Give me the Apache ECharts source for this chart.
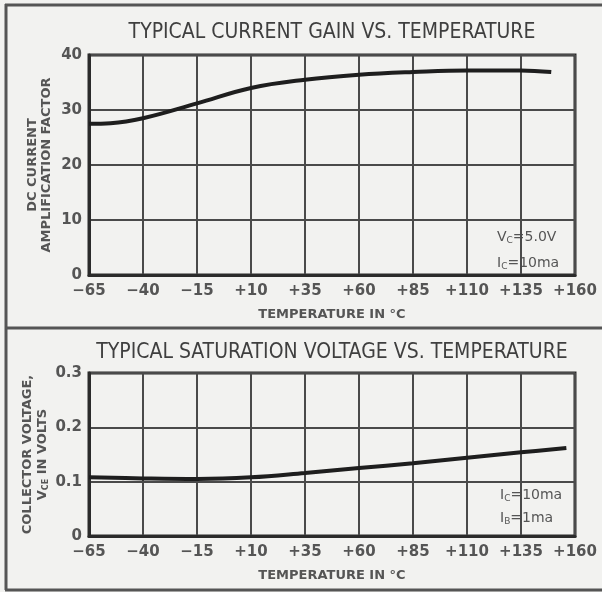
<!DOCTYPE html>
<html>
<head>
<meta charset="utf-8">
<script src="https://cdn.jsdelivr.net/npm/echarts@6/dist/echarts.min.js"></script>
<style>
  html, body { margin: 0; padding: 0; background: #f2f2f0; }
  #main { width: 602px; height: 592px; }
</style>
</head>
<body>
<div id="main"></div>
<script>
// temperature axis, °C
const tempTicks = [-65, -40, -15, 10, 35, 60, 85, 110, 135, 160];
const TEMP_MIN = -65;

// DC current gain vs temperature (Vc = 5.0V, Ic = 10ma)
const gainTemp = [-65, -55, -40, -15, 10, 35, 60, 85, 110, 135, 149];
const gainValue = [27.5, 27.6, 28.5, 31.2, 34.0, 35.5, 36.4, 36.9, 37.2, 37.2, 36.9];
const gainTicks = [0, 10, 20, 30, 40];

// saturation voltage vs temperature (Ic = 10ma, Ib = 1ma)
const satTemp = [-65, -40, -15, 10, 35, 60, 85, 110, 135, 156];
const satValue = [0.108, 0.106, 0.105, 0.108, 0.116, 0.125, 0.134, 0.144, 0.154, 0.162];
const satTicks = [0, 0.1, 0.2, 0.3];

const ink = '#2b2b2b';
const grey = '#555';
const labelFont = 'DejaVu Sans';
const titleFont = '"DejaVu Sans Condensed", sans-serif';

// axis runs from 0 so ticks line up with -65, -40, ...
const shift = (t) => t - TEMP_MIN;
const tempLabel = (v) => {
  const t = Math.round(v + TEMP_MIN);
  if (t > 0) return '+' + t;
  if (t < 0) return '\u2212' + Math.abs(t);
  return '0';
};

function xAxisFor(gridIndex) {
  return {
    type: 'value',
    gridIndex,
    min: 0,
    max: shift(tempTicks[tempTicks.length - 1]),
    interval: tempTicks[1] - tempTicks[0],
    name: 'TEMPERATURE IN \u00B0C',
    nameLocation: 'middle',
    nameGap: 33,
    nameMoveOverlap: false,
    nameTextStyle: { color: grey, fontFamily: labelFont, fontWeight: 'bold', fontSize: 13 },
    axisLine: { show: true, lineStyle: { color: ink, width: 3 } },
    axisTick: { show: false },
    axisLabel: { color: grey, fontFamily: labelFont, fontWeight: 'bold', fontSize: 15, margin: 9, formatter: tempLabel },
    splitLine: { show: true, lineStyle: { color: '#4a4a4a', width: 2 } }
  };
}

const chart = echarts.init(document.getElementById('main'));

chart.setOption({
  backgroundColor: '#f2f2f0',
  animation: false,
  grid: [
    { left: 89, right: 27, top: 55, height: 220, show: true, borderColor: ink, borderWidth: 3, backgroundColor: 'transparent' },
    { left: 89, right: 27, top: 373, height: 163, show: true, borderColor: ink, borderWidth: 3, backgroundColor: 'transparent' }
  ],
  xAxis: [xAxisFor(0), xAxisFor(1)],
  yAxis: [
    {
      type: 'value',
      gridIndex: 0,
      min: gainTicks[0],
      max: gainTicks[gainTicks.length - 1],
      interval: gainTicks[1] - gainTicks[0],
      name: 'DC CURRENT\nAMPLIFICATION FACTOR',
      nameLocation: 'middle',
      nameGap: 35,
      nameMoveOverlap: false,
      nameTextStyle: { color: grey, fontFamily: labelFont, fontWeight: 'bold', fontSize: 13, lineHeight: 14 },
      axisLine: { show: true, lineStyle: { color: ink, width: 3 } },
      axisTick: { show: false },
      axisLabel: { color: grey, fontFamily: labelFont, fontWeight: 'bold', fontSize: 15, margin: 7 },
      splitLine: { show: true, lineStyle: { color: '#4a4a4a', width: 2 } }
    },
    {
      type: 'value',
      gridIndex: 1,
      min: satTicks[0],
      max: satTicks[satTicks.length - 1],
      interval: satTicks[1] - satTicks[0],
      name: 'COLLECTOR VOLTAGE,\nV{sub|CE} IN VOLTS',
      nameLocation: 'middle',
      nameGap: 39,
      nameMoveOverlap: false,
      nameTextStyle: {
        color: grey, fontFamily: labelFont, fontWeight: 'bold', fontSize: 13, lineHeight: 15,
        rich: { sub: { fontSize: 8, fontWeight: 'bold', fontFamily: labelFont, color: grey, verticalAlign: 'bottom', padding: [6, 0, 0, 0] } }
      },
      axisLine: { show: true, lineStyle: { color: ink, width: 3 } },
      axisTick: { show: false },
      axisLabel: {
        color: grey, fontFamily: labelFont, fontWeight: 'bold', fontSize: 15, margin: 7,
        formatter: (v) => (v === 0 ? '0' : v.toFixed(1))
      },
      splitLine: { show: true, lineStyle: { color: '#4a4a4a', width: 2 } }
    }
  ],
  series: [
    {
      type: 'line',
      xAxisIndex: 0,
      yAxisIndex: 0,
      smooth: 0.4,
      symbol: 'none',
      lineStyle: { color: '#1e1e1e', width: 4 },
      data: gainTemp.map((t, i) => [shift(t), gainValue[i]])
    },
    {
      type: 'line',
      xAxisIndex: 1,
      yAxisIndex: 1,
      smooth: 0.4,
      symbol: 'none',
      lineStyle: { color: '#1e1e1e', width: 4 },
      data: satTemp.map((t, i) => [shift(t), satValue[i]])
    }
  ],
  graphic: [
    // outer frame of the figure
    { type: 'line', shape: { x1: 6, y1: 4, x2: 6, y2: 590 }, style: { stroke: grey, lineWidth: 3 } },
    { type: 'line', shape: { x1: 5, y1: 5, x2: 602, y2: 5 }, style: { stroke: grey, lineWidth: 3 } },
    { type: 'line', shape: { x1: 5, y1: 328, x2: 602, y2: 328 }, style: { stroke: grey, lineWidth: 3 } },
    { type: 'line', shape: { x1: 5, y1: 590, x2: 602, y2: 590 }, style: { stroke: grey, lineWidth: 3 } },
    // chart titles
    {
      type: 'text',
      style: { text: 'TYPICAL CURRENT GAIN VS. TEMPERATURE', x: 332, y: 33, align: 'center', verticalAlign: 'middle',
        font: '21px ' + titleFont, fill: '#3f3f3f' }
    },
    {
      type: 'text',
      style: { text: 'TYPICAL SATURATION VOLTAGE VS. TEMPERATURE', x: 332, y: 353, align: 'center', verticalAlign: 'middle',
        font: '21px ' + titleFont, fill: '#3f3f3f' }
    },
    // test conditions
    {
      type: 'text',
      style: {
        text: 'V{s|C}=5.0V\nI{s|C}=10ma', x: 497, y: 224, align: 'left', verticalAlign: 'top',
        fontFamily: labelFont, fontSize: 14, lineHeight: 26, fill: grey,
        rich: { s: { fontSize: 9, fontFamily: labelFont, fill: grey, padding: [7, 0, 0, 0] } }
      }
    },
    {
      type: 'text',
      style: {
        text: 'I{s|C}=10ma\nI{s|B}=1ma', x: 500, y: 484, align: 'left', verticalAlign: 'top',
        fontFamily: labelFont, fontSize: 14, lineHeight: 23, fill: grey,
        rich: { s: { fontSize: 9, fontFamily: labelFont, fill: grey, padding: [7, 0, 0, 0] } }
      }
    }
  ]
});
</script>
</body>
</html>
